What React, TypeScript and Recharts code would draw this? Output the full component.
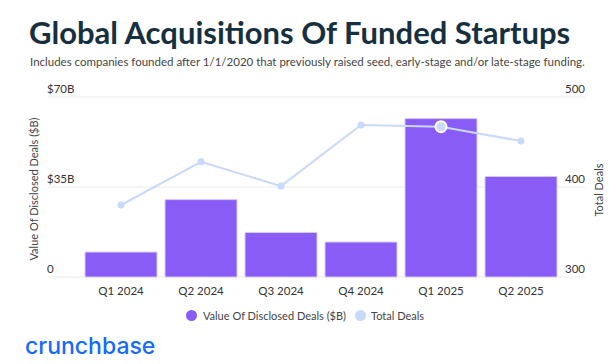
import React from "react";
import {
  ComposedChart,
  Bar,
  Line,
  XAxis,
  YAxis,
  CartesianGrid,
  Legend,
} from "recharts";

const quarters = ["Q1 2024", "Q2 2024", "Q3 2024", "Q4 2024", "Q1 2025", "Q2 2025"];
const dealValues = [9.7, 30.1, 17.3, 13.6, 61.6, 39.1]; // $B
const totalDeals = [380, 428, 401, 469, 467, 451];
const leftTicks = [0, 35, 70];
const rightTicks = [300, 400, 500];
const highlightIndex = 4;

const BAR_COLOR = "#8a5cf6";
const LINE_COLOR = "#c8d9fc";
const FONT = "Lato, 'Open Sans', sans-serif";

const data = quarters.map((q, i) => ({
  quarter: q,
  value: dealValues[i],
  deals: totalDeals[i],
}));

const renderLeftTick = (props: any) => {
  const { y, payload } = props;
  const label = payload.value === 0 ? "0" : `$${payload.value}B`;
  return (
    <text x={47} y={y - 4} fontSize={11.5} fill="#333" fontFamily={FONT} textAnchor="start">
      {label}
    </text>
  );
};

const renderRightTick = (props: any) => {
  const { y, payload } = props;
  return (
    <text x={585} y={y - 4} fontSize={11.5} fill="#333" fontFamily={FONT} textAnchor="end">
      {payload.value}
    </text>
  );
};

const DealDot = (props: any) => {
  const { cx, cy, index } = props;
  if (index === highlightIndex) {
    return <circle cx={cx} cy={cy} r={5.5} fill={LINE_COLOR} stroke="#fff" strokeWidth={2} />;
  }
  return <circle cx={cx} cy={cy} r={3.5} fill={LINE_COLOR} stroke="none" />;
};

const LegendContent = () => (
  <div
    style={{
      display: "flex",
      justifyContent: "center",
      alignItems: "center",
      fontFamily: FONT,
      fontSize: 11,
      color: "#444",
    }}
  >
    <span style={{ width: 11, height: 11, borderRadius: 6, background: BAR_COLOR, marginRight: 6 }} />
    <span style={{ marginRight: 9 }}>Value Of Disclosed Deals ($B)</span>
    <span style={{ width: 11, height: 11, borderRadius: 6, background: LINE_COLOR, marginRight: 5 }} />
    <span>Total Deals</span>
  </div>
);

const AxisTitle = ({ x, y, text }: { x: number; y: number; text: string }) => (
  <text
    x={x}
    y={y}
    transform={`rotate(-90 ${x} ${y})`}
    textAnchor="middle"
    dominantBaseline="central"
    fontSize={11}
    fill="#444"
    fontFamily={FONT}
  >
    {text}
  </text>
);

export default function App() {
  return (
    <div
      style={{
        position: "absolute",
        left: 0,
        top: 0,
        width: 610,
        height: 364,
        background: "#fff",
        fontFamily: FONT,
        overflow: "hidden",
      }}
    >
      <div
        style={{
          position: "absolute",
          left: 29,
          top: 13,
          fontSize: 31,
          fontWeight: 700,
          color: "#17303f",
          whiteSpace: "nowrap",
        }}
      >
        Global Acquisitions Of Funded Startups
      </div>
      <div
        style={{
          position: "absolute",
          left: 30,
          top: 55,
          fontSize: 11.5,
          color: "#444",
          whiteSpace: "nowrap",
        }}
      >
        Includes companies founded after 1/1/2020 that previously raised seed, early-stage and/or late-stage funding.
      </div>

      <ComposedChart
        width={610}
        height={364}
        data={data}
        margin={{ top: 97, right: 0, bottom: 57, left: 0 }}
        style={{ position: "absolute", left: 0, top: 0 }}
      >
        <CartesianGrid horizontal vertical={false} stroke="#ececec" yAxisId="left" />
        <XAxis
          dataKey="quarter"
          height={30}
          axisLine={false}
          tickLine={false}
          padding={{ left: 33, right: 24 }}
          tick={{ fontSize: 11.5, fill: "#333", fontFamily: FONT }}
          dy={2}
        />
        <YAxis
          yAxisId="left"
          width={48}
          domain={[0, 70]}
          ticks={leftTicks}
          axisLine={false}
          tickLine={false}
          tick={renderLeftTick}
          label={{ content: () => <AxisTitle x={33} y={189} text="Value Of Disclosed Deals ($B)" /> }}
        />
        <YAxis
          yAxisId="right"
          orientation="right"
          width={25}
          domain={[300, 500]}
          ticks={rightTicks}
          axisLine={false}
          tickLine={false}
          tick={renderRightTick}
          label={{ content: () => <AxisTitle x={598} y={190} text="Total Deals" /> }}
        />
        <Bar
          yAxisId="left"
          dataKey="value"
          name="Value Of Disclosed Deals ($B)"
          fill={BAR_COLOR}
          stroke="#d6cbfd"
          strokeWidth={1}
          barSize={72}
          isAnimationActive={false}
        />
        <Line
          yAxisId="right"
          dataKey="deals"
          name="Total Deals"
          stroke={LINE_COLOR}
          strokeWidth={2}
          dot={<DealDot />}
          activeDot={false}
          isAnimationActive={false}
        />
        <Legend
          layout="horizontal"
          verticalAlign="middle"
          align="center"
          content={<LegendContent />}
          wrapperStyle={{ position: "absolute", top: 309, left: 0, width: 610 }}
        />
      </ComposedChart>

      <div
        style={{
          position: "absolute",
          left: 25,
          top: 332,
          fontSize: 23,
          fontWeight: 500,
          color: "#146aff",
          fontFamily: "Inter, sans-serif",
        }}
      >
        crunchbase
      </div>
    </div>
  );
}
